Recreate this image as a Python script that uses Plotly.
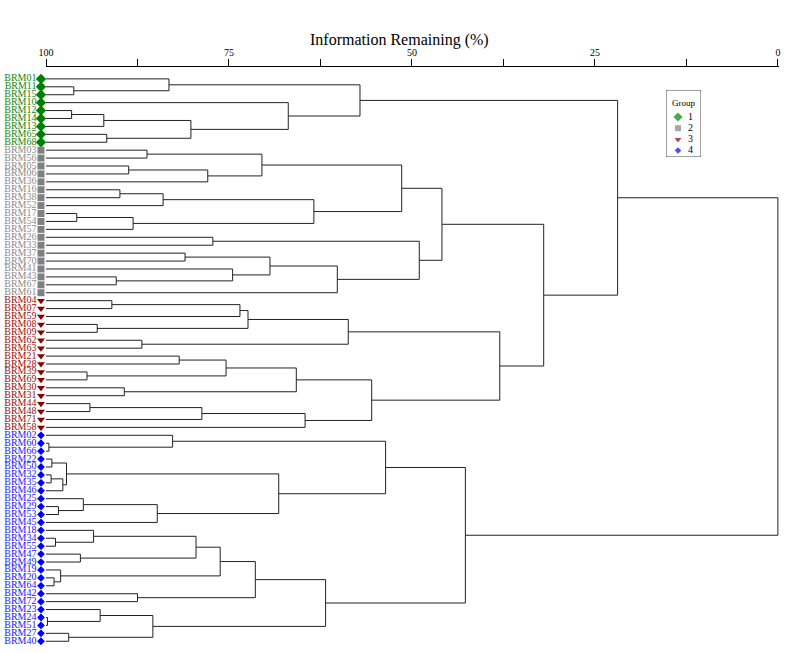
import plotly.graph_objects as go

# ---------------- data ----------------
leaf_labels = [
    "BRM01", "BRM11", "BRM15", "BRM10", "BRM12", "BRM14", "BRM13", "BRM65", "BRM68",
    "BRM03", "BRM56", "BRM05", "BRM06", "BRM36", "BRM16", "BRM38", "BRM52", "BRM17",
    "BRM54", "BRM57", "BRM26", "BRM33", "BRM37", "BRM70", "BRM41", "BRM43", "BRM67",
    "BRM61",
    "BRM04", "BRM07", "BRM59", "BRM08", "BRM09", "BRM62", "BRM63", "BRM21", "BRM28",
    "BRM39", "BRM69", "BRM30", "BRM31", "BRM44", "BRM48", "BRM71", "BRM58",
    "BRM02", "BRM60", "BRM66", "BRM22", "BRM50", "BRM32", "BRM35", "BRM46", "BRM25",
    "BRM29", "BRM53", "BRM45", "BRM18", "BRM34", "BRM55", "BRM47", "BRM49", "BRM19",
    "BRM20", "BRM64", "BRM42", "BRM72", "BRM23", "BRM24", "BRM51", "BRM27", "BRM40",
]
leaf_groups = [1] * 9 + [2] * 19 + [3] * 17 + [4] * 27

# merges: node k joins merge_left[k] and merge_right[k] at merge_height[k]
# (children are leaf labels or "n<k>" for earlier nodes)
merge_left = [
    "BRM11", "BRM01", "BRM12", "n2", "BRM65", "n3", "BRM10", "n1",
    "BRM03", "BRM05", "n9", "n8", "BRM16", "n12", "BRM17", "n14", "n13", "n11",
    "BRM26", "BRM37", "BRM43", "BRM41", "n19", "n22", "n18", "n17",
    "BRM04", "n26", "BRM08", "n27", "BRM62", "n29", "BRM21", "BRM39", "n32",
    "BRM30", "n34", "BRM44", "n37", "n38", "n36", "n31",
    "n25", "n7",
    "BRM60", "BRM02", "BRM22", "BRM32", "n47", "n46", "BRM29", "BRM25", "n51",
    "n49", "n45", "BRM34", "BRM18", "BRM47", "n56", "BRM20", "BRM19", "n58",
    "BRM42", "n61", "BRM24", "BRM23", "BRM27", "n65", "n63", "n54", "n43",
]
merge_right = [
    "BRM15", "n0", "BRM14", "BRM13", "BRM68", "n4", "n5", "n6",
    "BRM56", "BRM06", "BRM36", "n10", "BRM38", "BRM52", "BRM54", "BRM57", "n15", "n16",
    "BRM33", "BRM70", "BRM67", "n20", "n21", "BRM61", "n23", "n24",
    "BRM07", "BRM59", "BRM09", "n28", "BRM63", "n30", "BRM28", "BRM69", "n33",
    "BRM31", "n35", "BRM48", "BRM71", "BRM58", "n39", "n40",
    "n41", "n42",
    "BRM66", "n44", "BRM50", "BRM35", "BRM46", "n48", "BRM53", "n50", "BRM45",
    "n52", "n53", "BRM55", "n55", "BRM49", "n57", "BRM64", "n59", "n60",
    "BRM72", "n62", "BRM51", "n64", "BRM40", "n66", "n67", "n68", "n69",
]
merge_height = [
    96.2, 83.2, 96.5, 92.1, 91.7, 80.2, 66.9, 57.1,
    86.2, 88.7, 77.9, 70.5, 89.9, 84.0, 95.8, 88.1, 63.4, 51.4,
    77.2, 81.0, 90.4, 74.5, 69.4, 60.2, 49.0, 45.9,
    91.0, 73.5, 93.0, 72.4, 86.9, 58.7, 81.8, 94.4, 75.4,
    89.3, 65.8, 94.0, 78.7, 64.6, 55.5, 38.0,
    32.0, 21.9,
    99.6, 82.7, 99.2, 99.3, 97.7, 97.2, 98.3, 94.9, 84.8,
    68.2, 53.6, 98.7, 93.5, 95.3, 79.5, 98.9, 98.0, 76.2,
    87.5, 71.4, 99.8, 92.6, 96.9, 85.4, 61.8, 42.7, 0.0,
]

group_names = ["1", "2", "3", "4"]
group_marker_colors = ["#008000", "#808080", "#8b0000", "#0000ff"]
group_label_colors = ["#118811", "#8c8c8c", "#9a1010", "#2020ff"]
group_symbols = ["diamond", "square", "triangle-down", "diamond"]
group_sizes = [8, 7, 7, 6]

x_ticks = [100, 87.5, 75, 62.5, 50, 37.5, 25, 12.5, 0]
x_tick_text = ["100", "", "75", "", "50", "", "25", "", "0"]

# ---------------- layout geometry ----------------
W, H = 800, 653
MR, MT, MB = 21, 67, 7
AX0 = 46                      # pixel where the dendrogram axis starts (value 100)
x_range = [100, -0.15]
y_range = [71.6, -1.5]
plot_w = W - MR
plot_h = H - MT - MB

serif = "Liberation Serif, Times New Roman, serif"

# ---------------- compute dendrogram coordinates ----------------
pos = {name: (100.0, float(i)) for i, name in enumerate(leaf_labels)}
seg_x, seg_y = [], []
for k, (a, b, h) in enumerate(zip(merge_left, merge_right, merge_height)):
    xa, ya = pos[a]
    xb, yb = pos[b]
    seg_x += [xa, h, h, xb, None]
    seg_y += [ya, ya, yb, yb, None]
    pos["n%d" % k] = (h, (ya + yb) / 2.0)

fig = go.Figure()
fig.add_trace(go.Scatter(
    x=seg_x, y=seg_y, mode="lines",
    line=dict(color="#222222", width=1),
    hoverinfo="skip", showlegend=False,
))

# leaf markers and labels on a left strip axis (pixel units)
for gi, g in enumerate([1, 2, 3, 4]):
    idx = [i for i, gg in enumerate(leaf_groups) if gg == g]
    fig.add_trace(go.Scatter(
        x=[41] * len(idx), y=idx, mode="markers",
        marker=dict(symbol=group_symbols[gi], size=group_sizes[gi],
                    color=group_marker_colors[gi], line=dict(width=0)),
        xaxis="x3", yaxis="y", cliponaxis=False, showlegend=False, hoverinfo="skip",
    ))
    fig.add_trace(go.Scatter(
        x=[36.5] * len(idx), y=idx, mode="text",
        text=[leaf_labels[i] for i in idx], textposition="middle left",
        textfont=dict(family=serif, size=10, color=group_label_colors[gi]),
        xaxis="x3", yaxis="y", cliponaxis=False, showlegend=False, hoverinfo="skip",
    ))

# manual legend (small subplot)
LX0, LX1, LY0, LY1 = 666, 701, 90, 157
fig.add_trace(go.Scatter(
    x=[12] * 4, y=[27 + 11.2 * i for i in range(4)], mode="markers",
    marker=dict(symbol=group_symbols, size=[7, 6, 6, 5],
                color=group_marker_colors, line=dict(width=0)),
    xaxis="x2", yaxis="y2", showlegend=False, hoverinfo="skip", cliponaxis=False,
))
fig.add_trace(go.Scatter(
    x=[22] * 4, y=[27 + 11.2 * i for i in range(4)], mode="text",
    text=group_names, textposition="middle right",
    textfont=dict(family=serif, size=10, color="#000000"),
    xaxis="x2", yaxis="y2", showlegend=False, hoverinfo="skip", cliponaxis=False,
))

fig.add_shape(type="rect", xref="x2", yref="y2", x0=0, x1=LX1 - LX0, y0=0, y1=LY1 - LY0,
              line=dict(color="#444444", width=1), fillcolor="rgba(0,0,0,0)")
fig.add_annotation(xref="x2", yref="y2", x=(LX1 - LX0) / 2, y=12.7, text="Group",
                   showarrow=False, font=dict(family=serif, size=9, color="#000"),
                   xanchor="center", yanchor="middle")

fig.add_annotation(xref="paper", yref="paper",
                   x=399 / plot_w, y=1 + (MT - 40.5) / plot_h,
                   text="Information Remaining (%)", showarrow=False,
                   font=dict(family=serif, size=16, color="#000"),
                   xanchor="center", yanchor="middle")

fig.update_layout(
    template="none",
    width=W, height=H,
    margin=dict(l=0, r=MR, t=MT, b=MB, pad=0, autoexpand=False),
    paper_bgcolor="white", plot_bgcolor="white",
    xaxis=dict(domain=[AX0 / plot_w, 1], range=x_range, side="top", anchor="y",
               automargin=False, showgrid=False, zeroline=False,
               showline=True, linecolor="#000", linewidth=1,
               ticks="outside", ticklen=7, tickcolor="#000", tickwidth=1,
               tickvals=x_ticks, ticktext=x_tick_text, ticklabelstandoff=-1,
               tickfont=dict(family=serif, size=10, color="#000")),
    xaxis3=dict(domain=[0, AX0 / plot_w], range=[0, AX0], anchor="y",
                automargin=False, visible=False, fixedrange=True),
    yaxis=dict(range=y_range, showgrid=False, zeroline=False, showline=False,
               automargin=False, showticklabels=False, ticks="", anchor="x"),
    xaxis2=dict(domain=[LX0 / plot_w, LX1 / plot_w], automargin=False,
                range=[0, LX1 - LX0], anchor="y2", visible=False, fixedrange=True),
    yaxis2=dict(domain=[1 - (LY1 - MT) / plot_h, 1 - (LY0 - MT) / plot_h],
                automargin=False,
                range=[LY1 - LY0, 0], anchor="x2", visible=False, fixedrange=True),
    showlegend=False,
)

fig.write_html("out.html", config={"displayModeBar": False},
               post_script="document.body.style.margin='0';document.body.style.overflow='hidden';")
